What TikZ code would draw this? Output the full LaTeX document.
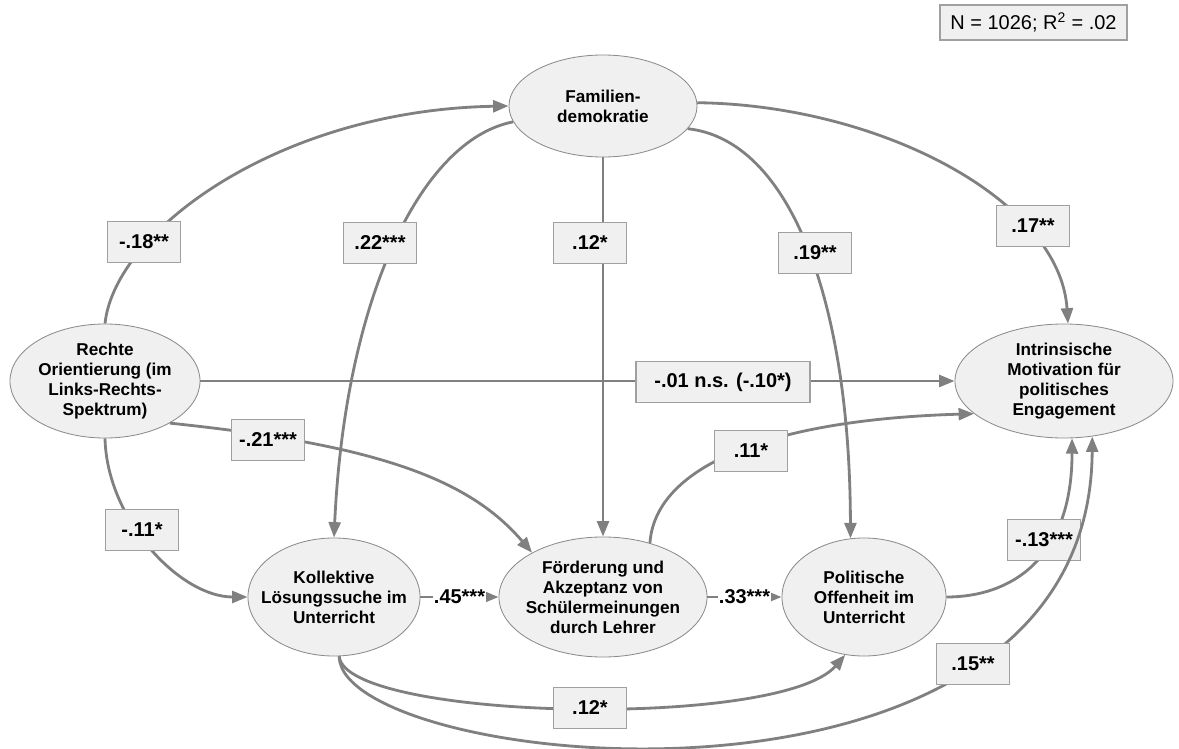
\documentclass[tikz,border=0pt]{standalone}
\usepackage{fontspec}
\setmainfont{Liberation Sans}
\usepackage{xcolor}
\usepackage{tikz}
\usetikzlibrary{shapes.geometric, arrows.meta}

\definecolor{pathgray}{HTML}{808080}
\definecolor{ringgray}{HTML}{8C8C8C}
\definecolor{boxgray}{HTML}{A0A0A0}
\definecolor{softfill}{HTML}{F0F0F0}

\begin{document}
\begin{tikzpicture}[
  x=0.025cm, y=-0.025cm,
  latent/.style={ellipse, draw=ringgray, fill=softfill, line width=0.6pt, inner xsep=-10pt, inner ysep=0pt, align=center, font=\fontsize{12.2}{14.2}\selectfont\bfseries},
  coef/.style={rectangle, draw=boxgray, fill=softfill, line width=0.9pt, minimum width=1.825cm, minimum height=1.025cm, text centered, font=\fontsize{14.2}{16}\selectfont\bfseries},
  plain/.style={fill=white, inner sep=1pt, font=\fontsize{14.2}{16}\selectfont\bfseries},
  arrow/.style={draw=pathgray, line width=2pt, -{Triangle[length=11pt,width=8.5pt]}}
]
\useasboundingbox (0,0) rectangle (1179,749);

% Constructs
\node (rechte) [latent, minimum width=4.75cm, minimum height=2.85cm] at (105,381) {Rechte\\Orientierung (im\\Links-Rechts-\\Spektrum)};
\node (famil) [latent, minimum width=4.7cm, minimum height=2.55cm] at (603,106) {Familien-\\demokratie};
\node (intr) [latent, minimum width=5.45cm, minimum height=2.85cm] at (1064,381) {Intrinsische\\Motivation für\\politisches\\Engagement};
\node (koll) [latent, minimum width=4.3cm, minimum height=2.95cm] at (334,597) {Kollektive\\Lösungssuche im\\Unterricht};
\node (foerd) [latent, minimum width=5.2cm, minimum height=3.0cm] at (603,597) {Förderung und\\Akzeptanz von\\Schülermeinungen\\durch Lehrer};
\node (polit) [latent, minimum width=4.1cm, minimum height=2.95cm] at (864,597) {Politische\\Offenheit im\\Unterricht};

% Model fit
\node (fit) [rectangle, draw=boxgray, fill=softfill, line width=0.9pt, minimum width=4.675cm, minimum height=0.875cm, font=\fontsize{14.2}{16}\selectfont] at (1033.5,22.5) {N = 1026; R\textsuperscript{2} = .02};

% Paths
\draw [arrow] (rechte.north) .. controls (115,230) and (280,110) .. (famil.west);
\draw [arrow] (famil.190) .. controls (420,140) and (345,300) .. (koll.north);
\draw [arrow] (famil.south) -- (foerd.north);
\draw [arrow] (famil.-15) .. controls (790,140) and (850,300) .. (polit.103);
\draw [arrow] (famil.2) .. controls (880,105) and (1060,200) .. (intr.86);
\draw [arrow] (rechte.east) -- (intr.west);
\draw [arrow] (rechte.-33) .. controls (380,445) and (470,480) .. (foerd.148);
\draw [arrow] (rechte.south) .. controls (107,520) and (180,597) .. (koll.west);
\draw [arrow] (koll.east) -- (foerd.west) node [plain, midway] (l45) {.45***};
\draw [arrow] (foerd.east) -- (polit.west) node [plain, midway] (l33) {.33***};
\draw [arrow] (foerd.49) .. controls (655,470) and (760,420) .. (intr.200);
\draw [arrow] (polit.east) .. controls (1010,597) and (1072,560) .. (intr.-82);
\draw [arrow] (koll.-85) .. controls (345,720) and (780,730) .. (polit.252);

% Coefficients
\node (l18) [coef] at (144,242) {-.18**};
\node (l22) [coef] at (380,243) {.22***};
\node (l12a) [coef] at (590,243) {.12*};
\node (l19) [coef] at (815,253) {.19**};
\node (l17) [coef] at (1033,226) {.17**};
\node (l01) [coef, minimum width=4.35cm] at (723,382) {-.01 n.s. (-.10*)};
\node (l21) [coef] at (268,440) {-.21***};
\node (l11a) [coef] at (142,530) {-.11*};
\node (l11b) [coef] at (751,451) {.11*};
\node (l13) [coef] at (1044,540) {-.13***};
\node (l12b) [coef] at (590,708) {.12*};

% long path over the -.13 box
\draw [arrow] (koll.-85) .. controls (340,770) and (1090,850) .. (intr.-63);
\node (l15) [coef] at (973,664) {.15**};
\end{tikzpicture}
\end{document}
